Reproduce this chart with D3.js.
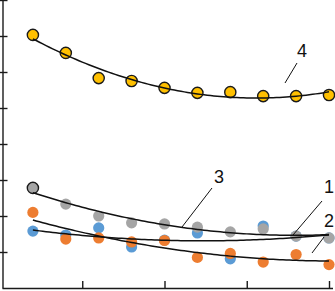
<!DOCTYPE html>
<html><head><meta charset="utf-8">
<script src="https://cdn.jsdelivr.net/npm/d3@7"></script>
<style>html,body{margin:0;padding:0;background:#fff;overflow:hidden}svg{display:block}</style>
</head><body>
<svg id="c" width="335" height="291"></svg>
<script>
const xs = [1,2,3,4,5,6,7,8,9,10];
const series1 = [1.58,1.47,1.67,1.14,1.33,1.53,0.81,1.72,1.44,1.39]; // blue
const series2 = [2.10,1.36,1.39,1.28,1.32,0.85,0.96,0.72,0.93,0.65]; // orange
const series3 = [2.78,2.33,2.00,1.81,1.78,1.69,1.56,1.64,1.44,1.39]; // gray
const series4 = [7.03,6.53,5.83,5.75,5.56,5.42,5.44,5.33,5.33,5.36]; // yellow
const xTicks = [2.5,5,7.5,10];
const yTicks = [1,2,3,4,5,6,7,8];
const labels = ["1","2","3","4"];

const svg = d3.select("#c");
const x = d3.scaleLinear().domain([0,10]).range([0,329]);
const y = d3.scaleLinear().domain([0,8]).range([288,0]);

// axes
const gy = svg.append("g").attr("transform","translate(2.5,0)")
  .call(d3.axisLeft(y).tickValues(yTicks).tickSizeInner(-5).tickSizeOuter(0).tickFormat(()=>""));
gy.selectAll(".tick line").attr("x1",-3).attr("stroke","#1a1a1a").attr("stroke-width",1.4);
gy.select(".domain").attr("stroke","#1a1a1a").attr("stroke-width",1.4);
const gx = svg.append("g").attr("transform","translate(0,288)")
  .call(d3.axisBottom(x).tickValues(xTicks).tickSizeInner(-7).tickSizeOuter(0).tickFormat(()=>""));
gx.selectAll(".tick line").attr("stroke","#1a1a1a").attr("stroke-width",1.4);
gx.select(".domain").attr("stroke","#1a1a1a").attr("stroke-width",1.4).attr("d","M2.5,0.5H333");

function quadFit(xv, yv){
  let S=[0,0,0,0,0], T=[0,0,0];
  for(let i=0;i<xv.length;i++){
    const a=xv[i], b=yv[i];
    for(let k=0;k<5;k++) S[k]+=Math.pow(a,k);
    for(let k=0;k<3;k++) T[k]+=b*Math.pow(a,k);
  }
  const M=[[S[0],S[1],S[2],T[0]],[S[1],S[2],S[3],T[1]],[S[2],S[3],S[4],T[2]]];
  for(let i=0;i<3;i++){
    for(let j=i+1;j<3;j++){const f=M[j][i]/M[i][i];for(let k=i;k<4;k++)M[j][k]-=f*M[i][k];}
  }
  const c=[0,0,0];
  for(let i=2;i>=0;i--){let s=M[i][3];for(let k=i+1;k<3;k++)s-=M[i][k]*c[k];c[i]=s/M[i][i];}
  return t=>c[0]+c[1]*t+c[2]*t*t;
}

const seriesList = [
  {vals:series1, fill:"#5B9BD5"},
  {vals:series2, fill:"#ED7D31"},
  {vals:series3, fill:"#A5A5A5"},
  {vals:series4, fill:"#FFC000"}
];

seriesList.forEach((s,si)=>{
  svg.append("g").selectAll("circle").data(xs.map((d,i)=>({x:d,v:s.vals[i],i})))
    .join("circle")
    .attr("cx",d=>x(d.x)).attr("cy",d=>y(d.v)).attr("r",5.6)
    .attr("fill",s.fill)
    .attr("stroke",d=> (si===3 || (si===2 && d.i===0)) ? "#1a1a1a" : "none")
    .attr("stroke-width",1.4);
});

const line = d3.line().x(d=>x(d[0])).y(d=>y(d[1])).curve(d3.curveLinear);
seriesList.forEach(s=>{
  const f = quadFit(xs, s.vals);
  const pts = d3.range(1,10.001,0.1).map(t=>[t,f(t)]);
  svg.append("path").attr("d",line(pts)).attr("fill","none")
    .attr("stroke","#111").attr("stroke-width",1.5);
});

// labels with leader lines
const lab = [
  {t:labels[3], tx:297, ty:57, l:[[297,63],[285,83]]},
  {t:labels[2], tx:214, ty:183, l:[[212,188],[182,227]]},
  {t:labels[0], tx:324, ty:193, l:[[322,201],[293,235]]},
  {t:labels[1], tx:324, ty:227, l:[[324,237],[312,253]]}
];
lab.forEach(d=>{
  svg.append("line").attr("x1",d.l[0][0]).attr("y1",d.l[0][1]).attr("x2",d.l[1][0]).attr("y2",d.l[1][1])
    .attr("stroke","#111").attr("stroke-width",1);
  svg.append("text").attr("x",d.tx).attr("y",d.ty).text(d.t)
    .attr("font-family","Liberation Sans, Arial, sans-serif").attr("font-size",18).attr("fill","#111");
});
</script>
</body></html>
